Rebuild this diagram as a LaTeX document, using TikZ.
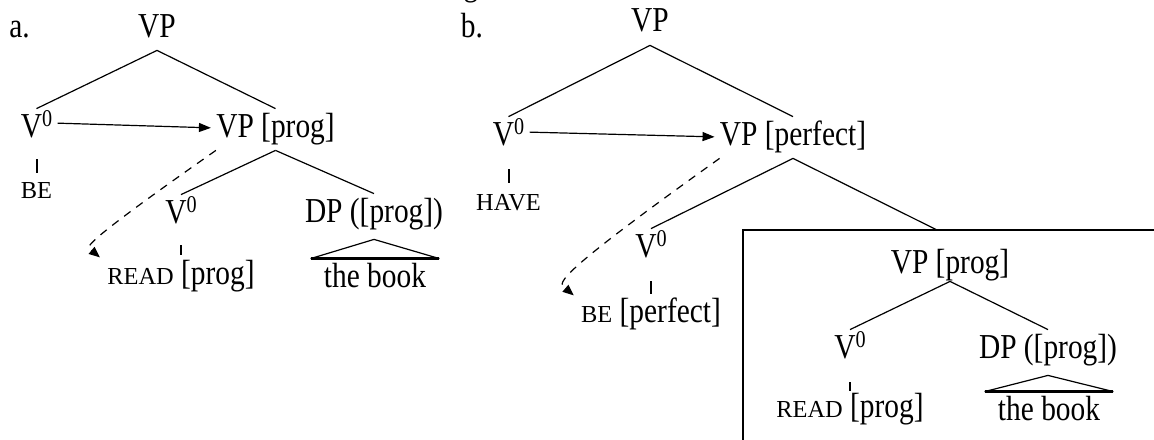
\documentclass[tikz,border=0pt]{standalone}
\usepackage{fontspec}
\setmainfont{Liberation Serif}[FakeStretch=0.84]
\newfontfamily\scfont{Liberation Serif}
\usetikzlibrary{arrows.meta, positioning}

% V with a raised zero, and small capitals for lexical items
\newcommand{\Vz}{V\raisebox{5.5pt}{\fontsize{12pt}{14pt}\selectfont 0}}
\newcommand{\lex}[1]{{\scfont\fontsize{12.2pt}{14pt}\selectfont #1}}

\begin{document}
\begin{tikzpicture}[
    x=0.5pt, y=-0.5pt,
    every node/.style={inner sep=0pt, anchor=base, text height=14pt, text depth=6.5pt, font=\fontsize{17.5pt}{21pt}\selectfont},
    word/.style={text height=11pt},
    branch/.style={line width=0.6pt},
    tick/.style={line width=1pt},
    frame/.style={line width=1.3pt},
    arrow/.style={-{Triangle[length=6pt, width=4.5pt]}, line width=0.6pt, shorten <=2.5pt, shorten >=2.5pt},
    move/.style={-{Triangle[length=5.5pt, width=4.5pt]}, line width=0.6pt, dash pattern=on 4pt off 3.5pt}
]
\useasboundingbox (0,0) rectangle (1154,439);
\clip (0,0) rectangle (1154,439);

\node (fig) at (471,-4) {g};

% tree a
\node (la) at (19.5,37) {a.};
\node (vpa) at (157,37) {VP};
\node (v0a) at (36.5,137) {\Vz};
\node (vpproga) at (275.5,137) {VP [prog]};
\node (bea) [word, below=13pt of v0a] {\lex{BE}};
\node (v0a2) at (181,223) {\Vz};
\node (dpa) at (374,222) {DP ([prog])};
\node (reada) [word, below=13pt of v0a2] {\lex{READ} [prog]};
\node (booka) at (375,287) {the book};

\draw[branch] (vpa.south) -- (v0a.north);
\draw[branch] (vpa.south) -- (vpproga.north);
\draw[branch] (vpproga.south) -- (v0a2.north);
\draw[branch] (vpproga.south) -- (dpa.north);
\draw[tick, shorten <=4.5pt, shorten >=1.5pt] (v0a.south) -- (v0a.south |- bea.north);
\draw[tick, shorten <=4.5pt, shorten >=3.5pt] (v0a2.south) -- (v0a2.south |- reada.north);
\draw[branch] ([yshift=-2pt]dpa.south) -- ([xshift=-6.5pt]booka.north west);
\draw[branch] ([yshift=-2pt]dpa.south) -- ([xshift=6.5pt]booka.north east);
\draw[frame] ([xshift=-6.5pt]booka.north west) -- ([xshift=6.5pt]booka.north east);
\draw[arrow] ([yshift=3.25pt]v0a.east) -- ([yshift=0.75pt]vpproga.west);
\draw[move] (vpproga.south west) .. controls +(-150,105) and +(-12,-10) .. ([shift={(-3.5pt,2.5pt)}]reada.north west);

% tree b
\node (lb) at (472,37) {b.};
\node (vpb) at (650,32) {VP};
\node (v0b) at (508.5,145) {\Vz};
\node (vpperf) at (793,145) {VP [perfect]};
\node (haveb) [word, below=15pt of v0b] {\lex{HAVE}};
\node (v0b2) at (651,257) {\Vz};
\node (beperf) [word, below=15pt of v0b2] {\lex{BE} [perfect]};
\coordinate (boxtop) at (937,230);

\draw[branch] (vpb.south) -- (v0b.north);
\draw[branch] (vpb.south) -- (vpperf.north);
\draw[branch] (vpperf.south) -- (v0b2.north);
\draw[branch] (vpperf.south) -- (boxtop);
\draw[tick, shorten <=5.5pt, shorten >=2.5pt] (v0b.south) -- (v0b.south |- haveb.north);
\draw[tick, shorten <=5.5pt, shorten >=3pt] (v0b2.south) -- (v0b2.south |- beperf.north);
\draw[arrow] ([yshift=2.75pt]v0b.east) -- ([yshift=0.25pt]vpperf.west);
\draw[move] (vpperf.south west) .. controls +(-178,127) and +(-14,-12) .. ([shift={(-3.5pt,2.5pt)}]beperf.north west);

% boxed lower VP
\draw[frame] (743,230) rectangle (1200,480);
\node (vpprogb) at (950,273) {VP [prog]};
\node (v0b3) at (850,358) {\Vz};
\node (dpb) at (1048,358) {DP ([prog])};
\node (readb) [word, below=12pt of v0b3] {\lex{READ} [prog]};
\node (bookb) at (1049,420) {the book};

\draw[branch] ([yshift=2.5pt]vpprogb.south) -- (v0b3.north);
\draw[branch] ([yshift=2.5pt]vpprogb.south) -- (dpb.north);
\draw[tick, shorten <=5.5pt, shorten >=2pt] (v0b3.south) -- (v0b3.south |- readb.north);
\draw[branch] ([yshift=-2pt]dpb.south) -- ([xshift=-6.5pt]bookb.north west);
\draw[branch] ([yshift=-2pt]dpb.south) -- ([xshift=6.5pt]bookb.north east);
\draw[frame] ([xshift=-6.5pt]bookb.north west) -- ([xshift=6.5pt]bookb.north east);

\end{tikzpicture}
\end{document}
